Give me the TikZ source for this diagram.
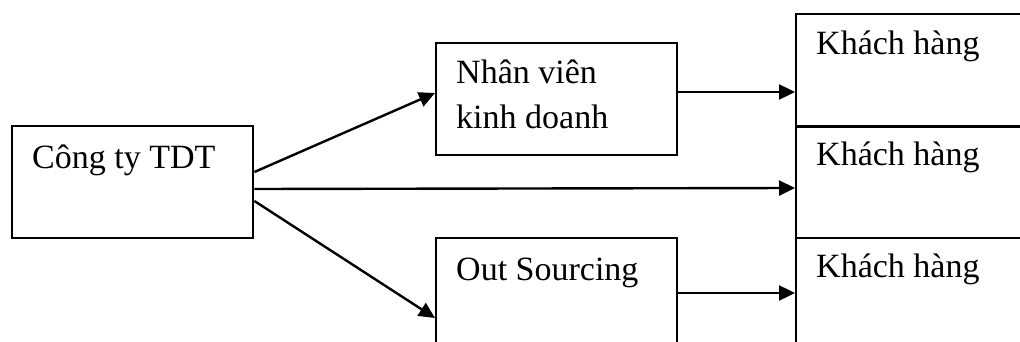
\documentclass[tikz,border=0pt]{standalone}
\usepackage{fontspec}
\setmainfont{Liberation Serif}
\usetikzlibrary{arrows.meta}
\begin{document}
\begin{tikzpicture}[x=1pt,y=-1pt,
  box/.style={draw, line width=2.4pt, rectangle, inner sep=0pt,
    minimum width=241pt, minimum height=112pt, anchor=north west},
  txt/.style={inner sep=0pt, anchor=base west, align=left,
    font=\fontsize{34}{46}\selectfont},
  link/.style={line width=2.4pt, -{Triangle[length=16pt,width=15pt]}}]
\clip (0,0) rectangle (1020,342);
\fill[white] (0,0) rectangle (1020,342);
% boxes
\node[box] (tdt) at (11,125) {};
\node[box] (nv)  at (435,42) {};
\node[box] (os)  at (435,237) {};
\node[box] (kh1) at (795,13) {};
\node[box, minimum height=111pt] (kh2) at (795,126) {};
\node[box] (kh3) at (795,237) {};
% labels (base of a two-line label is its last line)
\node[txt] (ttdt) at ([xshift=21pt,yshift=-43pt]tdt.north west) {Công ty TDT};
\node[txt] (tnv)  at ([xshift=21pt,yshift=-87pt]nv.north west) {Nhân viên\\kinh doanh};
\node[txt] (tos)  at ([xshift=21pt,yshift=-43pt]os.north west) {Out Sourcing};
\node[txt] (tkh1) at ([xshift=21pt,yshift=-42pt]kh1.north west) {Khách hàng};
\node[txt] (tkh2) at ([xshift=21pt,yshift=-39pt]kh2.north west) {Khách hàng};
\node[txt] (tkh3) at ([xshift=21pt,yshift=-40pt]kh3.north west) {Khách hàng};
% connectors
\draw[link] ([yshift=-47pt]tdt.north east) -- ([yshift=-51pt]nv.north west);
\draw[link] ([yshift=-64pt]tdt.north east) -- ([yshift=-62pt]kh2.north west);
\draw[link] ([yshift=-76pt]tdt.north east) -- ([yshift=-81pt]os.north west);
\draw[link] ([yshift=-50pt]nv.north east) -- ([yshift=-79pt]kh1.north west);
\draw[link] ([yshift=-56pt]os.north east) -- ([yshift=-56pt]kh3.north west);
\end{tikzpicture}
\end{document}
